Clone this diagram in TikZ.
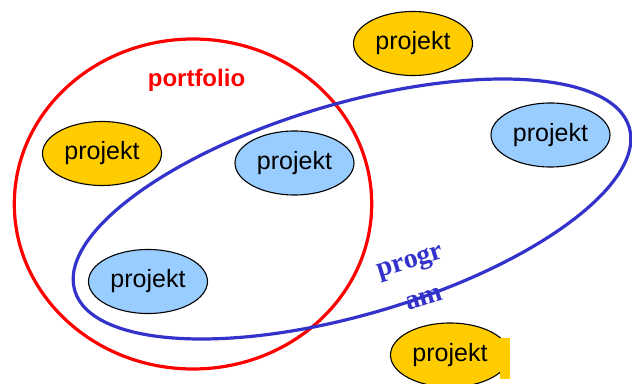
\documentclass[tikz,border=0pt]{standalone}
\usepackage{fontspec}
\setmainfont{Liberation Sans}
\newfontfamily\serifbold{Liberation Serif}
\usetikzlibrary{shapes.geometric}

\definecolor{portred}{HTML}{FF0000}
\definecolor{progblue}{HTML}{3333CC}
\definecolor{projyellow}{HTML}{FFCC00}
\definecolor{projblue}{HTML}{99CCFF}

\tikzset{
  proj/.style={ellipse, draw=black, line width=1.1pt, inner sep=0pt,
    minimum width=119pt, minimum height=64pt,
    font=\fontsize{25}{30}\selectfont},
  projy/.style={proj, fill=projyellow},
  projb/.style={proj, fill=projblue},
  setline/.style={line width=3.2pt},
  proglbl/.style={text=progblue, rotate=17, inner sep=0pt,
    font=\serifbold\bfseries\fontsize{28}{34}\selectfont},
}

\begin{document}
\begin{tikzpicture}[x=1pt, y=1pt]
  \useasboundingbox (0,0) rectangle (632,383);

  % portfolio boundary
  \draw[setline, portred] (193,179) ellipse [x radius=178.7, y radius=165];
  \node[anchor=base, text=portred, font=\bfseries\fontsize{24}{28}\selectfont]
    (portlabel) at (196.5,296.3) {portfolio};

  % program boundary
  \draw[setline, progblue, rotate around={16.4:(352,174)}]
    (352,174) ellipse [x radius=289, y radius=105.5];
  % label broken over two lines, the second one sitting on the boundary
  \node[proglbl] (proglabel) at (411,119) {progr};
  \node[proglbl] (proglabelb) at (424,84.5) {am};

  % projects
  \node[projy] (p1) at (413,339.5) {projekt};
  \node[projy] (p2) at (102,229.5) {projekt};
  \node[projb] (p3) at (294.5,220) {projekt};
  \node[projb] (p4) at (550.5,248) {projekt};
  \node[projb] (p5) at (148,101.5) {projekt};
  \node[projy] (p6) at (450,28) {projekt};
  \fill[projyellow] (500,4) rectangle (509.5,45);
\end{tikzpicture}
\end{document}
